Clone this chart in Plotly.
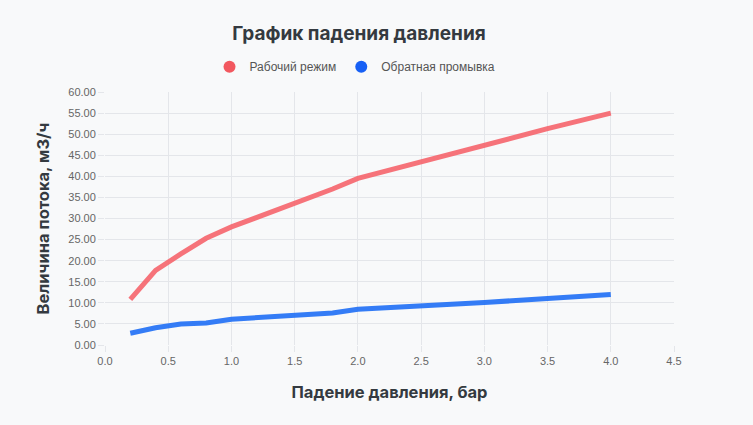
import plotly.graph_objects as go

pressure_drop = [0.2, 0.4, 0.6, 0.8, 1.0, 1.5, 1.8, 2.0, 2.5, 3.0, 3.5, 4.0]
working_mode = [10.8, 17.7, 21.6, 25.3, 28.0, 33.5, 37.0, 39.5, 43.5, 47.6, 51.3, 55.0]
backwash = [2.8, 4.1, 5.0, 5.2, 6.1, 7.0, 7.6, 8.5, 9.2, 10.1, 11.0, 12.0]

series_names = ["Рабочий режим", "Обратная промывка"]
line_colors = ["rgba(245,100,108,0.9)", "rgba(30,110,245,0.9)"]
dot_colors = ["#f2585f", "#1760f5"]

fig = go.Figure()
for name, ys, lc in zip(series_names, [working_mode, backwash], line_colors):
    fig.add_trace(go.Scatter(x=pressure_drop, y=ys, mode="lines", name=name,
                             line=dict(color=lc, width=5), showlegend=False))
for name, dc in zip(series_names, dot_colors):
    fig.add_trace(go.Scatter(x=[None], y=[None], mode="markers", name=name,
                             marker=dict(color=dc, size=12, symbol="circle")))

grid = "#e4e6ea"
fig.update_layout(
    width=753, height=425,
    paper_bgcolor="#f8f9fa", plot_bgcolor="#f8f9fa",
    margin=dict(l=105, r=79, t=92, b=80, autoexpand=False),
    title=dict(text="<b>График падения давления</b>", x=359 / 753, xanchor="center",
               xref="container", y=1 - 33 / 425, yanchor="middle",
               font=dict(family="Inter, Liberation Sans, sans-serif", size=19, color="#343a40")),
    legend=dict(orientation="h", x=0.4394, xanchor="center",
                y=1.1, yanchor="middle",
                font=dict(family="Liberation Sans, Arial, sans-serif", size=12, color="#555"),
                itemsizing="constant", itemwidth=30, bgcolor="rgba(0,0,0,0)"),
    xaxis=dict(range=[0, 4.5], dtick=0.5, tick0=0, tickformat=".1f",
               showgrid=True, gridcolor=grid, gridwidth=1, zeroline=False,
               showline=False, ticks="outside", ticklen=6, tickcolor=grid,
               tickfont=dict(family="Liberation Sans, Arial, sans-serif", size=11, color="#666"),
               title=dict(text="<b>Падение давления, бар</b>", standoff=20,
                          font=dict(family="Inter, Liberation Sans, sans-serif", size=16.5, color="#343a40"))),
    yaxis=dict(range=[0, 60], dtick=5, tick0=0, tickformat=".2f",
               showgrid=True, gridcolor=grid, gridwidth=1, zeroline=False,
               showline=False, ticks="outside", ticklen=6, tickcolor=grid,
               tickfont=dict(family="Liberation Sans, Arial, sans-serif", size=11, color="#666"),
               title=dict(text="<b>Величина потока, м3/ч</b>", standoff=14,
                          font=dict(family="Inter, Liberation Sans, sans-serif", size=16.5, color="#343a40"))),
)

fig.write_html("out.html")
